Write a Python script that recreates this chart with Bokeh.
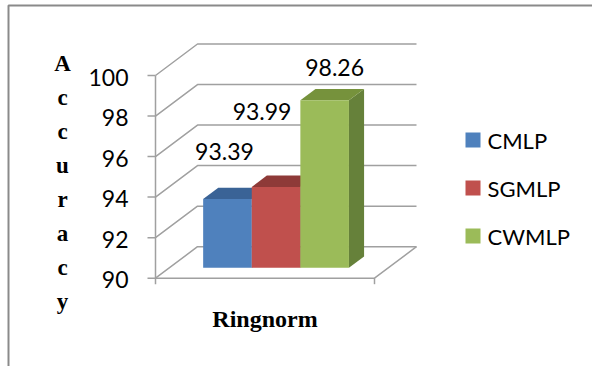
from bokeh.plotting import figure
from bokeh.models import Range1d
from bokeh.embed import file_html
from bokeh.resources import INLINE
from bokeh.core.properties import value

# ---------------- data ----------------
categories = ["CMLP", "SGMLP", "CWMLP"]
accuracy = [93.39, 93.99, 98.26]
value_labels = ["93.39", "93.99", "98.26"]
y_ticks = [90, 92, 94, 96, 98, 100]
y_tick_labels = ["90", "92", "94", "96", "98", "100"]
group_label = "Ringnorm"
axis_title = "Accuracy"

# ---------------- styles ----------------
front_colors = ["#4f81bd", "#c0504d", "#9bbb59"]
top_colors = ["#3a6396", "#8e3a38", "#76923c"]
side_colors = ["#2f5380", "#7a2f2d", "#66813a"]
GRID = "#a0a0a0"
BORDER = "#8a8a8a"
NUM_FONT = value("Lato")
SERIF = value("Liberation Serif")

# ---------------- geometry (pixels) ----------------
W, H = 592, 366
VMIN, VMAX = y_ticks[0], y_ticks[-1]
Y_BOT_PX, Y_TOP_PX = 277.7, 75.0
K = (Y_BOT_PX - Y_TOP_PX) / (VMAX - VMIN)      # px per value unit
y_top = VMAX + Y_TOP_PX / K
y_bottom = VMIN - (H - Y_BOT_PX) / K


def vy(py):
    """pixel row -> data value"""
    return y_top - py / K


AX_X = 155.0          # front-left corner of the floor
FLOOR_W = 219.0       # floor width
DX = 42.0             # depth offset, px
DY = 31.5 / K         # depth offset, value units
T0, T1 = 0.33, 0.69   # bar depth (fraction of floor depth)
BAR_X0 = 188.8        # left of first bar (front plane)
BAR_W = 48.6
SERIF_SHIFT = 8.0     # correction for alphabetic baseline rendering

p = figure(width=W, height=H, output_backend="svg", toolbar_location=None,
           x_range=Range1d(0, W), y_range=Range1d(y_bottom, y_top),
           x_axis_type=None, y_axis_type=None, min_border=0)
p.outline_line_color = None
p.grid.visible = False
p.background_fill_color = "white"

# outer border (left + top)
p.line([8, 8, W], [vy(H), vy(5), vy(5)], line_color=BORDER, line_width=2)

# walls: diagonal side-wall lines and back-wall gridlines
for t in y_ticks:
    p.line([AX_X, AX_X + DX, AX_X + DX + FLOOR_W], [t, t + DY, t + DY],
           line_color=GRID, line_width=1.5)
    # tick marks on front axis
    p.line([AX_X - 8, AX_X], [t, t], line_color=GRID, line_width=1.5)

# front axis
p.line([AX_X, AX_X], [VMIN - 6 / K, VMAX], line_color=GRID, line_width=1.5)
# floor front edge + right edge
p.line([AX_X, AX_X + FLOOR_W, AX_X + FLOOR_W + DX],
       [VMIN, VMIN, VMIN + DY], line_color=GRID, line_width=1.5)
p.line([AX_X + FLOOR_W, AX_X + FLOOR_W], [VMIN, VMIN - 6 / K],
       line_color=GRID, line_width=1.5)

# y tick labels
p.text(x=[AX_X - 27] * len(y_ticks), y=[t - 1.5 / K for t in y_ticks],
       text=y_tick_labels, text_font=NUM_FONT, text_font_size="23px",
       text_align="right", text_baseline="middle", text_color="#000000")

# bars
for i, v in enumerate(accuracy):
    xl = BAR_X0 + i * BAR_W
    xr = xl + BAR_W
    # side face
    p.patch([xr + T0 * DX, xr + T1 * DX, xr + T1 * DX, xr + T0 * DX],
            [VMIN + T0 * DY, VMIN + T1 * DY, v + T1 * DY, v + T0 * DY],
            fill_color=side_colors[i], line_color=None)
    # top face
    p.patch([xl + T0 * DX, xr + T0 * DX, xr + T1 * DX, xl + T1 * DX],
            [v + T0 * DY, v + T0 * DY, v + T1 * DY, v + T1 * DY],
            fill_color=top_colors[i], line_color=None)
    # front face
    p.patch([xl + T0 * DX, xr + T0 * DX, xr + T0 * DX, xl + T0 * DX],
            [VMIN + T0 * DY, VMIN + T0 * DY, v + T0 * DY, v + T0 * DY],
            fill_color=front_colors[i], line_color=None)

# value labels (placed as in the original)
LABEL_DX = [-3, -14, 10]
LABEL_DY_PX = [47.6, 75.6, 33.0]
lx = [BAR_X0 + (i + 0.5) * BAR_W + T0 * DX + LABEL_DX[i] for i in range(len(accuracy))]
ly = [v + T0 * DY + LABEL_DY_PX[i] / K for i, v in enumerate(accuracy)]
p.text(x=lx, y=ly, text=value_labels, text_font=NUM_FONT, text_font_size="23px",
       text_align="center", text_baseline="middle", text_color="#000000")

# legend
LEG_Y0, LEG_STEP = 139.5, 48.0
leg_y = [vy(LEG_Y0 + i * LEG_STEP) for i in range(len(categories))]
p.scatter(x=[472.5] * len(categories), y=leg_y, marker="square", size=15,
          fill_color=front_colors, line_color=None)
p.text(x=[487] * len(categories), y=leg_y, text=categories, text_font=NUM_FONT,
       text_font_size="22px", text_align="left", text_baseline="middle",
       text_color="#000000")

# category label
p.text(x=[264.5], y=[vy(326.5 - SERIF_SHIFT)], text=[group_label], text_font=SERIF,
       text_font_size="24px", text_font_style="bold", text_align="center",
       text_baseline="alphabetic", text_color="#000000")

# vertical stacked axis title
letters = list(axis_title)
p.text(x=[62] * len(letters),
       y=[vy(70.7 - SERIF_SHIFT + 34.0 * i) for i in range(len(letters))],
       text=letters, text_font=SERIF, text_font_size="23px", text_font_style="bold",
       text_align="center", text_baseline="alphabetic", text_color="#000000")

open("out.html", "w").write(file_html(p, INLINE))
